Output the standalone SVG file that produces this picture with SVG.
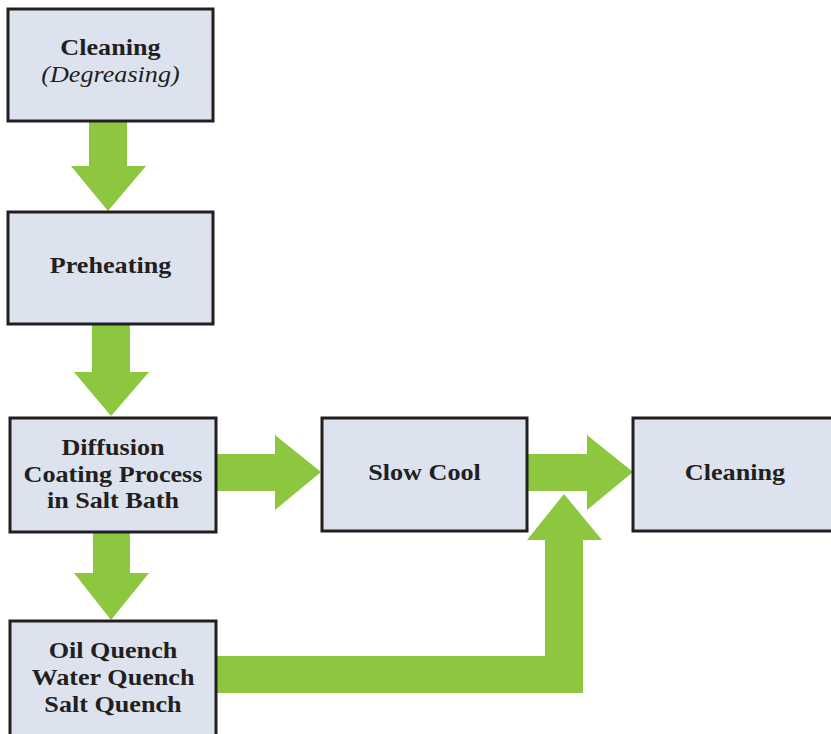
<svg xmlns="http://www.w3.org/2000/svg" width="831" height="734" viewBox="0 0 831 734">
<style>
.box{fill:#dce3ef;stroke:#231f20;stroke-width:3}
.arr{fill:#8dc63f}
text{font-family:"Liberation Serif","Times New Roman",serif;font-weight:bold;font-size:24px;fill:#231f20;text-anchor:middle}
.it{font-style:italic;font-weight:normal;font-size:24px}
</style>
<rect width="831" height="734" fill="#ffffff"/>
<g id="connectors">
<polygon class="arr" points="89,121 127,121 127,166 146,166 108,211 71,166 89,166"/>
<polygon class="arr" points="92,325 130,325 130,372 149,372 111,416 74,372 92,372"/>
<polygon class="arr" points="216,454 275,454 275,435 321,472 275,510 275,491 216,491"/>
<polygon class="arr" points="93,532 130,532 130,573 149,573 111,620 74,573 93,573"/>
<polygon class="arr" points="527,454 587,454 587,435 633,472 587,510 587,491 527,491"/>
<polygon class="arr" points="216,656 545,656 545,540 527,540 564,494 602,540 583,540 583,693 216,693"/>
</g>
<g id="n1"><rect class="box" x="8" y="9" width="205" height="112"/><g transform="translate(110.5 0) scale(1.09 1)"><text x="0" y="55">Cleaning</text><text class="it" x="0" y="82">(Degreasing)</text></g></g>
<g id="n2"><rect class="box" x="8" y="212" width="205" height="112"/><g transform="translate(110.5 0) scale(1.09 1)"><text x="0" y="273">Preheating</text></g></g>
<g id="n3"><rect class="box" x="10" y="418" width="206" height="114"/><g transform="translate(113 0) scale(1.09 1)"><text x="0" y="455">Diffusion</text><text x="0" y="482">Coating Process</text><text x="0" y="508">in Salt Bath</text></g></g>
<g id="n4"><rect class="box" x="322" y="418" width="205" height="113"/><g transform="translate(424.5 0) scale(1.09 1)"><text x="0" y="480">Slow Cool</text></g></g>
<g id="n5"><rect class="box" x="633" y="418" width="205" height="113"/><g transform="translate(735 0) scale(1.09 1)"><text x="0" y="480">Cleaning</text></g></g>
<g id="n6"><rect class="box" x="10" y="621" width="206" height="120"/><g transform="translate(113 0) scale(1.09 1)"><text x="0" y="658">Oil Quench</text><text x="0" y="685">Water Quench</text><text x="0" y="712">Salt Quench</text></g></g>
</svg>
